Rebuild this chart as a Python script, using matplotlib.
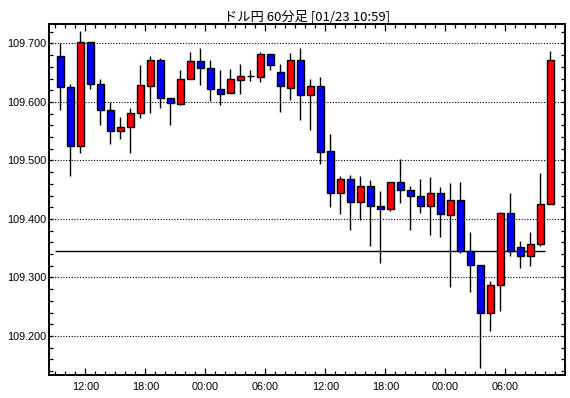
import matplotlib
matplotlib.use("Agg")
import matplotlib.pyplot as plt
from matplotlib.ticker import MultipleLocator, FixedLocator

# 60-minute bars, hours counted from 01/21 00:00 (first bar 09:00)
start_hour = 9
opens = [109.679, 109.625, 109.524, 109.702, 109.630, 109.586, 109.550, 109.557, 109.582, 109.627,
         109.671, 109.607, 109.596, 109.640, 109.670, 109.658, 109.623, 109.615, 109.638, 109.644,
         109.643, 109.682, 109.652, 109.624, 109.671, 109.612, 109.627, 109.516, 109.444, 109.468,
         109.429, 109.456, 109.423, 109.417, 109.463, 109.449, 109.440, 109.423, 109.444, 109.406,
         109.432, 109.345, 109.321, 109.240, 109.288, 109.410, 109.352, 109.336, 109.357, 109.426]
highs = [109.700, 109.631, 109.721, 109.703, 109.640, 109.600, 109.574, 109.589, 109.663, 109.679,
         109.675, 109.607, 109.655, 109.685, 109.692, 109.672, 109.655, 109.656, 109.665, 109.655,
         109.685, 109.682, 109.665, 109.683, 109.692, 109.640, 109.642, 109.545, 109.474, 109.475,
         109.474, 109.466, 109.448, 109.463, 109.502, 109.456, 109.468, 109.471, 109.454, 109.462,
         109.464, 109.377, 109.322, 109.294, 109.412, 109.444, 109.362, 109.378, 109.479, 109.688]
lows = [109.586, 109.474, 109.513, 109.622, 109.561, 109.529, 109.536, 109.513, 109.573, 109.582,
        109.590, 109.560, 109.595, 109.639, 109.629, 109.602, 109.594, 109.615, 109.614, 109.636,
        109.635, 109.655, 109.583, 109.603, 109.570, 109.552, 109.494, 109.421, 109.409, 109.382,
        109.399, 109.354, 109.324, 109.414, 109.427, 109.381, 109.410, 109.373, 109.370, 109.283,
        109.341, 109.276, 109.145, 109.209, 109.242, 109.337, 109.317, 109.320, 109.353, 109.426]
closes = [109.625, 109.524, 109.702, 109.630, 109.586, 109.550, 109.557, 109.582, 109.629, 109.671,
          109.607, 109.598, 109.640, 109.670, 109.658, 109.623, 109.614, 109.639, 109.644, 109.644,
          109.682, 109.664, 109.628, 109.671, 109.612, 109.627, 109.515, 109.444, 109.468, 109.429,
          109.456, 109.423, 109.417, 109.463, 109.449, 109.440, 109.423, 109.444, 109.408, 109.432,
          109.345, 109.321, 109.240, 109.288, 109.410, 109.345, 109.337, 109.357, 109.426, 109.671]
ref_price = 109.345
major_hours = [12, 18, 24, 30, 36, 42, 48, 54]
title = "ドル円 60分足 [01/23 10:59]"

fig = plt.figure(figsize=(5.7, 3.98), dpi=100)
ax = fig.add_axes([49 / 570, 23 / 398, 516 / 570, 351 / 398])

xs = [start_hour + i + 0.5 for i in range(len(opens))]
colors = []
for o, c in zip(opens, closes):
    if c > o:
        colors.append("#ff0000")
    elif c < o:
        colors.append("#0000ff")
    else:
        colors.append("black")

ax.vlines(xs, lows, highs, color="black", linewidth=1.0, zorder=3)
bottoms = [min(o, c) for o, c in zip(opens, closes)]
heights = [abs(c - o) for o, c in zip(opens, closes)]
ax.bar(xs, heights, bottom=bottoms, width=0.65, color=colors,
       edgecolor="black", linewidth=1.0, zorder=4)

ax.hlines(ref_price, start_hour, start_hour + len(opens) - 1, color="black",
          linewidth=1.0, zorder=2)

ax.set_xlim(8.37, 59.97)
ax.set_ylim(109.1333, 109.7333)

ax.yaxis.set_major_locator(FixedLocator([109.2, 109.3, 109.4, 109.5, 109.6, 109.7]))
ax.yaxis.set_minor_locator(MultipleLocator(0.02))
ax.set_yticklabels(["%.3f" % v for v in [109.2, 109.3, 109.4, 109.5, 109.6, 109.7]])
ax.xaxis.set_major_locator(FixedLocator(major_hours))
ax.xaxis.set_minor_locator(MultipleLocator(1))
ax.set_xticklabels(["%02d:00" % (h % 24) for h in major_hours])

ax.grid(axis="y", which="major", color="black", linestyle=(0, (1, 1.5)), linewidth=0.8)
ax.tick_params(which="both", direction="in", top=True, right=True,
               labelsize=7.8, pad=2, width=0.9, colors="black")
ax.tick_params(axis="y", which="major", length=3)
ax.tick_params(axis="y", which="minor", length=3)
ax.tick_params(axis="x", which="major", length=5, pad=5)
ax.tick_params(axis="x", which="minor", length=3)
for lab in ax.get_xticklabels() + ax.get_yticklabels():
    lab.set_family("Liberation Sans")

for s in ax.spines.values():
    s.set_linewidth(1.4)
    s.set_color("black")

ax.set_title(title, fontsize=9.5, pad=3, family=["Noto Sans CJK JP", "DejaVu Sans"])

fig.savefig("out.png", dpi=100, facecolor="white")
